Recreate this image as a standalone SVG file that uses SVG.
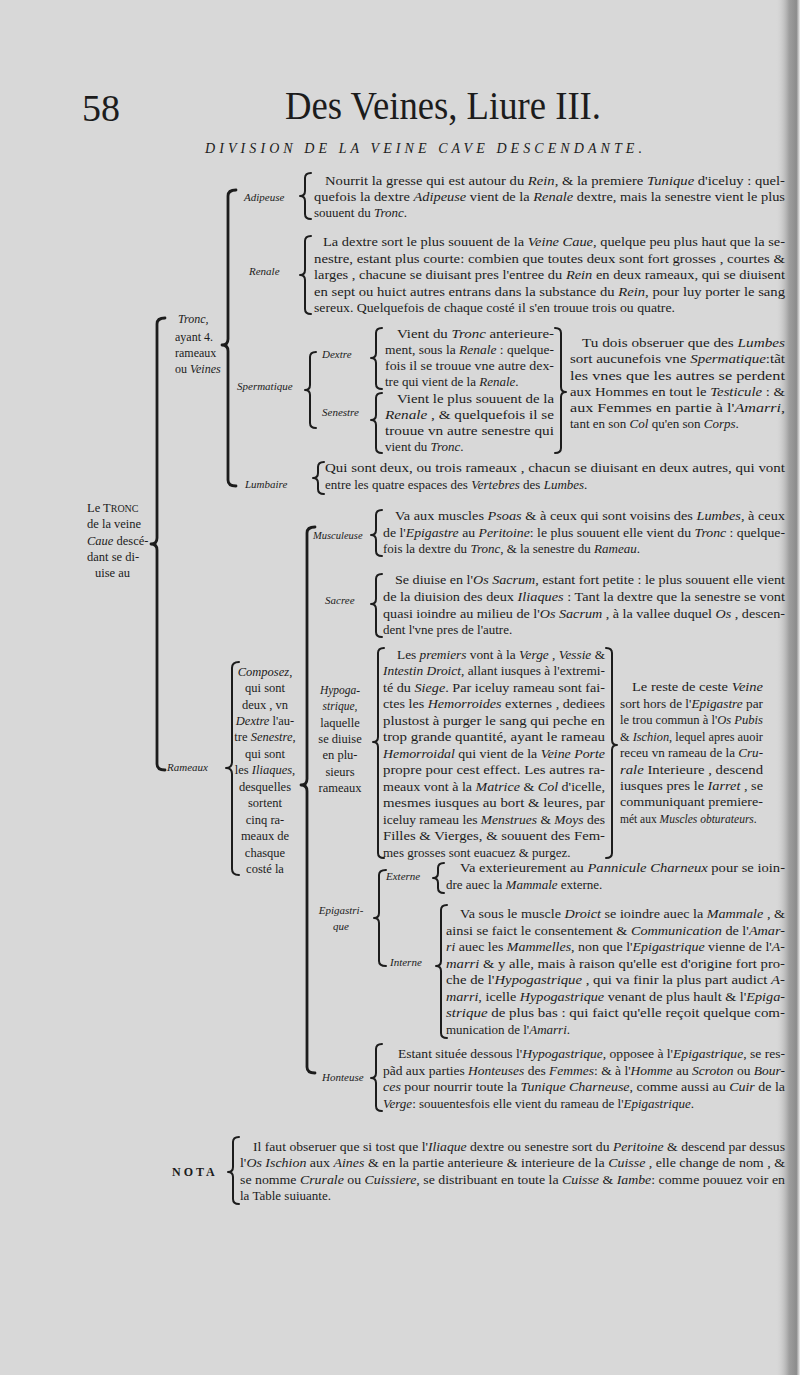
<svg xmlns="http://www.w3.org/2000/svg" width="800" height="1375" viewBox="0 0 800 1375">
<defs>
<linearGradient id="edge" x1="0" y1="0" x2="1" y2="0">
<stop offset="0" stop-color="#d4d4d4" stop-opacity="0"/>
<stop offset="0.55" stop-color="#9e9e9e"/>
<stop offset="0.85" stop-color="#8c8c8c"/>
<stop offset="1" stop-color="#efefef"/>
</linearGradient>
<style>
.t{font-family:"Liberation Serif","Times New Roman",serif;font-size:13px;fill:#1c1c1c}
.s{font-size:12.5px}
.i{font-style:italic}
.lb{font-family:"Liberation Serif","Times New Roman",serif;font-size:11px;font-style:italic;fill:#1c1c1c}
.sc{font-size:10px}
.br{fill:none;stroke:#1c1c1c;stroke-width:2;stroke-linecap:round;stroke-linejoin:round}
.bb{fill:none;stroke:#1c1c1c;stroke-width:2.8;stroke-linecap:round;stroke-linejoin:round}
</style>
</defs>
<rect width="800" height="1375" fill="#d8d8d8"/>
<rect x="776" y="0" width="24" height="1375" fill="url(#edge)"/>

<g id="header">
<text class="t" x="82" y="121" style="font-size:38px">58</text>
<text class="t" x="285" y="119" style="font-size:40px" textLength="316" lengthAdjust="spacingAndGlyphs">Des Veines, Liure III.</text>
<text class="t i" x="205" y="153" style="font-size:14px" textLength="437" lengthAdjust="spacing">DIVISION DE LA VEINE CAVE DESCENDANTE.</text>
</g>

<g id="connectors">
<path class="bb" d="M165,318 Q157,318 157,324 L157,538 Q157,544 151,544 Q157,544 157,550 L157,764 Q157,770 165,770"/>
<path class="bb" d="M236,190 Q228,190 228,196 L228,339 Q228,345 222,345 Q228,345 228,351 L228,480 Q228,486 236,486"/>
<path class="bb" d="M315,527 Q307,527 307,533 L307,779 Q307,785 301,785 Q307,785 307,791 L307,1067 Q307,1073 315,1073"/>
<path class="br" d="M239,662 Q232,662 232,668 L232,762 Q232,768 226,768 Q232,768 232,774 L232,869 Q232,875 239,875"/>
<path class="br" d="M316,352 Q310,352 310,357 L310,385 Q310,390 305,390 Q310,390 310,395 L310,423 Q310,428 316,428"/>
<path class="br" d="M386,870 Q379,870 379,875 L379,913 Q379,918 374,918 Q379,918 379,923 L379,961 Q379,966 386,966"/>
</g>

<g id="tronc-caue">
<text class="t s" x="87" y="512">Le T<tspan class="sc">RONC</tspan></text>
<text class="t s" x="87" y="528">de la veine</text>
<text class="t s" x="87" y="545"><tspan class="i">Caue</tspan> descé-</text>
<text class="t s" x="87" y="561">dant se di-</text>
<text class="t s" x="95" y="577">uise au</text>
</g>

<g id="tronc">
<text class="t i" x="178" y="323" style="font-size:12px">Tronc,</text>
<text class="t" x="175" y="341" style="font-size:12px">ayant 4.</text>
<text class="t" x="175" y="357" style="font-size:12px">rameaux</text>
<text class="t" x="175" y="373" style="font-size:12px">ou <tspan class="i">Veines</tspan></text>
</g>

<g id="adipeuse">
<text class="lb" x="244" y="201">Adipeuse</text>
<path class="br" d="M311,173 Q305,173 305,178 L305,191 Q305,196 300,196 Q305,196 305,201 L305,214 Q305,219 311,219"/>
<text class="t" x="325" y="185" textLength="460" lengthAdjust="spacingAndGlyphs">Nourrit la gresse qui est autour du <tspan class="i">Rein</tspan>, &amp; la premiere <tspan class="i">Tunique</tspan> d'iceluy : quel-</text>
<text class="t" x="314" y="201" textLength="471" lengthAdjust="spacingAndGlyphs">quefois la dextre <tspan class="i">Adipeuse</tspan> vient de la <tspan class="i">Renale</tspan> dextre, mais la senestre vient le plus</text>
<text class="t" x="314" y="217">souuent du <tspan class="i">Tronc</tspan>.</text>
</g>

<g id="renale">
<text class="lb" x="249" y="275">Renale</text>
<path class="br" d="M311,236 Q305,236 305,241 L305,270 Q305,275 300,275 Q305,275 305,280 L305,309 Q305,314 311,314"/>
<text class="t" x="323" y="246" textLength="462" lengthAdjust="spacingAndGlyphs">La dextre sort le plus souuent de la <tspan class="i">Veine Caue</tspan>, quelque peu plus haut que la se-</text>
<text class="t" x="314" y="263" textLength="471" lengthAdjust="spacingAndGlyphs">nestre, estant plus courte: combien que toutes deux sont fort grosses , courtes &amp;</text>
<text class="t" x="314" y="279" textLength="471" lengthAdjust="spacingAndGlyphs">larges , chacune se diuisant pres l'entree du <tspan class="i">Rein</tspan> en deux rameaux, qui se diuisent</text>
<text class="t" x="314" y="296" textLength="471" lengthAdjust="spacingAndGlyphs">en sept ou huict autres entrans dans la substance du <tspan class="i">Rein</tspan>, pour luy porter le sang</text>
<text class="t" x="314" y="312" textLength="361" lengthAdjust="spacingAndGlyphs">sereux. Quelquefois de chaque costé il s'en trouue trois ou quatre.</text>
</g>

<g id="spermatique">
<text class="lb" x="237" y="390">Spermatique</text>
<text class="lb" x="322" y="358">Dextre</text>
<text class="lb" x="322" y="416">Senestre</text>
<path class="br" d="M382,328 Q376,328 376,333 L376,353 Q376,358 371,358 Q376,358 376,363 L376,384 Q376,389 382,389"/>
<path class="br" d="M382,393 Q376,393 376,398 L376,415 Q376,420 371,420 Q376,420 376,425 L376,448 Q376,453 382,453"/>
<path class="br" d="M555,328 Q561,328 561,333 L561,387 Q561,392 566,392 Q561,392 561,397 L561,448 Q561,453 555,453"/>
<text class="t" x="397" y="338" textLength="157" lengthAdjust="spacingAndGlyphs">Vient du <tspan class="i">Tronc</tspan> anterieure-</text>
<text class="t" x="385" y="354" textLength="169" lengthAdjust="spacingAndGlyphs">ment, sous la <tspan class="i">Renale</tspan> : quelque-</text>
<text class="t" x="385" y="370" textLength="169" lengthAdjust="spacingAndGlyphs">fois il se trouue vne autre dex-</text>
<text class="t" x="385" y="386">tre qui vient de la <tspan class="i">Renale</tspan>.</text>
<text class="t" x="397" y="403" textLength="157" lengthAdjust="spacingAndGlyphs">Vient le plus souuent de la</text>
<text class="t" x="385" y="419" textLength="169" lengthAdjust="spacingAndGlyphs"><tspan class="i">Renale</tspan> , &amp; quelquefois il se</text>
<text class="t" x="385" y="435" textLength="169" lengthAdjust="spacingAndGlyphs">trouue vn autre senestre qui</text>
<text class="t" x="385" y="451">vient du <tspan class="i">Tronc</tspan>.</text>
<text class="t" x="582" y="347" textLength="203" lengthAdjust="spacingAndGlyphs">Tu dois obseruer que des <tspan class="i">Lumbes</tspan></text>
<text class="t" x="570" y="363" textLength="215" lengthAdjust="spacingAndGlyphs">sort aucunefois vne <tspan class="i">Spermatique</tspan>:tãt</text>
<text class="t" x="570" y="380" textLength="215" lengthAdjust="spacingAndGlyphs">les vnes que les autres se perdent</text>
<text class="t" x="570" y="396" textLength="215" lengthAdjust="spacingAndGlyphs">aux Hommes en tout le <tspan class="i">Testicule</tspan> : &amp;</text>
<text class="t" x="570" y="412" textLength="215" lengthAdjust="spacingAndGlyphs">aux Femmes en partie à l'<tspan class="i">Amarri</tspan>,</text>
<text class="t" x="570" y="428">tant en son <tspan class="i">Col</tspan> qu'en son <tspan class="i">Corps</tspan>.</text>
</g>

<g id="lumbaire">
<text class="lb" x="245" y="488">Lumbaire</text>
<path class="br" d="M324,462 Q318,462 318,467 L318,473 Q318,478 313,478 Q318,478 318,483 L318,489 Q318,494 324,494"/>
<text class="t" x="325" y="472" textLength="460" lengthAdjust="spacingAndGlyphs">Qui sont deux, ou trois rameaux , chacun se diuisant en deux autres, qui vont</text>
<text class="t" x="325" y="489">entre les quatre espaces des <tspan class="i">Vertebres</tspan> des <tspan class="i">Lumbes</tspan>.</text>
</g>

<g id="rameaux">
<text class="lb" x="167" y="771">Rameaux</text>
<g text-anchor="middle">
<text class="t s" x="265" y="676"><tspan class="i">Composez</tspan>,</text>
<text class="t s" x="265" y="692">qui sont</text>
<text class="t s" x="265" y="709">deux , vn</text>
<text class="t s" x="265" y="725"><tspan class="i">Dextre</tspan> l'au-</text>
<text class="t s" x="265" y="741">tre <tspan class="i">Senestre</tspan>,</text>
<text class="t s" x="265" y="758">qui sont</text>
<text class="t s" x="265" y="774">les <tspan class="i">Iliaques</tspan>,</text>
<text class="t s" x="265" y="791">desquelles</text>
<text class="t s" x="265" y="807">sortent</text>
<text class="t s" x="265" y="824">cinq ra-</text>
<text class="t s" x="265" y="840">meaux de</text>
<text class="t s" x="265" y="857">chasque</text>
<text class="t s" x="265" y="873">costé la</text>
</g>
</g>

<g id="musculeuse">
<text class="lb" x="313" y="539" style="font-size:10.5px">Musculeuse</text>
<path class="br" d="M382,510 Q376,510 376,515 L376,530 Q376,535 371,535 Q376,535 376,540 L376,551 Q376,556 382,556"/>
<text class="t" x="395" y="520" textLength="390" lengthAdjust="spacingAndGlyphs">Va aux muscles <tspan class="i">Psoas</tspan> &amp; à ceux qui sont voisins des <tspan class="i">Lumbes</tspan>, à ceux</text>
<text class="t" x="383" y="537" textLength="402" lengthAdjust="spacingAndGlyphs">de l'<tspan class="i">Epigastre</tspan> au <tspan class="i">Peritoine</tspan>: le plus souuent elle vient du <tspan class="i">Tronc</tspan> : quelque-</text>
<text class="t" x="383" y="553">fois la dextre du <tspan class="i">Tronc</tspan>, &amp; la senestre du <tspan class="i">Rameau</tspan>.</text>
</g>

<g id="sacree">
<text class="lb" x="325" y="604">Sacree</text>
<path class="br" d="M382,574 Q376,574 376,579 L376,599 Q376,604 371,604 Q376,604 376,609 L376,632 Q376,637 382,637"/>
<text class="t" x="395" y="584" textLength="390" lengthAdjust="spacingAndGlyphs">Se diuise en l'<tspan class="i">Os Sacrum</tspan>, estant fort petite : le plus souuent elle vient</text>
<text class="t" x="383" y="601" textLength="402" lengthAdjust="spacingAndGlyphs">de la diuision des deux <tspan class="i">Iliaques</tspan> : Tant la dextre que la senestre se vont</text>
<text class="t" x="383" y="618" textLength="402" lengthAdjust="spacingAndGlyphs">quasi ioindre au milieu de l'<tspan class="i">Os Sacrum</tspan> , à la vallee duquel <tspan class="i">Os</tspan> , descen-</text>
<text class="t" x="383" y="634">dent l'vne pres de l'autre.</text>
</g>

<g id="hypogastrique">
<text class="lb" x="340" y="694" text-anchor="middle" style="font-size:11.5px">Hypoga-</text>
<text class="lb" x="340" y="710" text-anchor="middle" style="font-size:11.5px">strique,</text>
<text class="t s" x="340" y="727" text-anchor="middle">laquelle</text>
<text class="t s" x="340" y="743" text-anchor="middle">se diuise</text>
<text class="t s" x="340" y="759" text-anchor="middle">en plu-</text>
<text class="t s" x="340" y="776" text-anchor="middle">sieurs</text>
<text class="t s" x="340" y="792" text-anchor="middle">rameaux</text>
<path class="br" d="M384,648 Q378,648 378,653 L378,737 Q378,742 373,742 Q378,742 378,747 L378,853 Q378,858 384,858"/>
<path class="br" d="M606,648 Q612,648 612,653 L612,740 Q612,745 617,745 Q612,745 612,750 L612,853 Q612,858 606,858"/>
<text class="t" x="397" y="659" textLength="208" lengthAdjust="spacingAndGlyphs">Les <tspan class="i">premiers</tspan> vont à la <tspan class="i">Verge</tspan> , <tspan class="i">Vessie</tspan> &amp;</text>
<text class="t" x="383" y="675" textLength="222" lengthAdjust="spacingAndGlyphs"><tspan class="i">Intestin Droict</tspan>, allant iusques à l'extremi-</text>
<text class="t" x="383" y="692" textLength="222" lengthAdjust="spacingAndGlyphs">té du <tspan class="i">Siege</tspan>. Par iceluy rameau sont fai-</text>
<text class="t" x="383" y="708" textLength="222" lengthAdjust="spacingAndGlyphs">ctes les <tspan class="i">Hemorroides</tspan> externes , dediees</text>
<text class="t" x="383" y="725" textLength="222" lengthAdjust="spacingAndGlyphs">plustost à purger le sang qui peche en</text>
<text class="t" x="383" y="741" textLength="222" lengthAdjust="spacingAndGlyphs">trop grande quantité, ayant le rameau</text>
<text class="t" x="383" y="758" textLength="222" lengthAdjust="spacingAndGlyphs"><tspan class="i">Hemorroidal</tspan> qui vient de la <tspan class="i">Veine Porte</tspan></text>
<text class="t" x="383" y="774" textLength="222" lengthAdjust="spacingAndGlyphs">propre pour cest effect. Les autres ra-</text>
<text class="t" x="383" y="791" textLength="222" lengthAdjust="spacingAndGlyphs">meaux vont à la <tspan class="i">Matrice</tspan> &amp; <tspan class="i">Col</tspan> d'icelle,</text>
<text class="t" x="383" y="807" textLength="222" lengthAdjust="spacingAndGlyphs">mesmes iusques au bort &amp; leures, par</text>
<text class="t" x="383" y="824" textLength="222" lengthAdjust="spacingAndGlyphs">iceluy rameau les <tspan class="i">Menstrues</tspan> &amp; <tspan class="i">Moys</tspan> des</text>
<text class="t" x="383" y="840" textLength="222" lengthAdjust="spacingAndGlyphs">Filles &amp; Vierges, &amp; souuent des Fem-</text>
<text class="t" x="383" y="857">mes grosses sont euacuez &amp; purgez.</text>
<text class="t" x="632" y="691" textLength="131" lengthAdjust="spacingAndGlyphs">Le reste de ceste <tspan class="i">Veine</tspan></text>
<text class="t" x="620" y="708" textLength="143" lengthAdjust="spacingAndGlyphs">sort hors de l'<tspan class="i">Epigastre</tspan> par</text>
<text class="t" x="620" y="724" textLength="143" lengthAdjust="spacingAndGlyphs">le trou commun à l'<tspan class="i">Os Pubis</tspan></text>
<text class="t" x="620" y="741" textLength="143" lengthAdjust="spacingAndGlyphs">&amp; <tspan class="i">Ischion</tspan>, lequel apres auoir</text>
<text class="t" x="620" y="757" textLength="143" lengthAdjust="spacingAndGlyphs">receu vn rameau de la <tspan class="i">Cru-</tspan></text>
<text class="t" x="620" y="774" textLength="143" lengthAdjust="spacingAndGlyphs"><tspan class="i">rale</tspan> Interieure , descend</text>
<text class="t" x="620" y="790" textLength="143" lengthAdjust="spacingAndGlyphs">iusques pres le <tspan class="i">Iarret</tspan> , se</text>
<text class="t" x="620" y="806" textLength="143" lengthAdjust="spacingAndGlyphs">communiquant premiere-</text>
<text class="t" x="620" y="823" style="font-size:11.5px">mét aux <tspan class="i">Muscles obturateurs</tspan>.</text>
</g>

<g id="epigastrique">
<text class="lb" x="341" y="914" text-anchor="middle">Epigastri-</text>
<text class="lb" x="341" y="930" text-anchor="middle">que</text>
</g>

<g id="externe">
<text class="lb" x="386" y="880">Externe</text>
<path class="br" d="M444,863 Q438,863 438,868 L438,873 Q438,878 433,878 Q438,878 438,883 L438,888 Q438,893 444,893"/>
<text class="t" x="460" y="872" textLength="325" lengthAdjust="spacingAndGlyphs">Va exterieurement au <tspan class="i">Pannicule Charneux</tspan> pour se ioin-</text>
<text class="t" x="446" y="889">dre auec la <tspan class="i">Mammale</tspan> externe.</text>
</g>

<g id="interne">
<text class="lb" x="390" y="966">Interne</text>
<path class="br" d="M447,905 Q441,905 441,910 L441,961 Q441,966 436,966 Q441,966 441,971 L441,1033 Q441,1038 447,1038"/>
<text class="t" x="460" y="918" textLength="325" lengthAdjust="spacingAndGlyphs">Va sous le muscle <tspan class="i">Droict</tspan> se ioindre auec la <tspan class="i">Mammale</tspan> , &amp;</text>
<text class="t" x="446" y="935" textLength="339" lengthAdjust="spacingAndGlyphs">ainsi se faict le consentement &amp; <tspan class="i">Communication</tspan> de l'<tspan class="i">Amar-</tspan></text>
<text class="t" x="446" y="951" textLength="339" lengthAdjust="spacingAndGlyphs"><tspan class="i">ri</tspan> auec les <tspan class="i">Mammelles</tspan>, non que l'<tspan class="i">Epigastrique</tspan> vienne de l'<tspan class="i">A-</tspan></text>
<text class="t" x="446" y="968" textLength="339" lengthAdjust="spacingAndGlyphs"><tspan class="i">marri</tspan> &amp; y alle, mais à raison qu'elle est d'origine fort pro-</text>
<text class="t" x="446" y="984" textLength="339" lengthAdjust="spacingAndGlyphs">che de l'<tspan class="i">Hypogastrique</tspan> , qui va finir la plus part audict <tspan class="i">A-</tspan></text>
<text class="t" x="446" y="1001" textLength="339" lengthAdjust="spacingAndGlyphs"><tspan class="i">marri</tspan>, icelle <tspan class="i">Hypogastrique</tspan> venant de plus hault &amp; l'<tspan class="i">Epiga-</tspan></text>
<text class="t" x="446" y="1017" textLength="339" lengthAdjust="spacingAndGlyphs"><tspan class="i">strique</tspan> de plus bas : qui faict qu'elle reçoit quelque com-</text>
<text class="t" x="446" y="1034">munication de l'<tspan class="i">Amarri</tspan>.</text>
</g>

<g id="honteuse">
<text class="lb" x="322" y="1081">Honteuse</text>
<path class="br" d="M382,1044 Q376,1044 376,1049 L376,1073 Q376,1078 371,1078 Q376,1078 376,1083 L376,1106 Q376,1111 382,1111"/>
<text class="t" x="398" y="1058" textLength="387" lengthAdjust="spacingAndGlyphs">Estant située dessous l'<tspan class="i">Hypogastrique</tspan>, opposee à l'<tspan class="i">Epigastrique</tspan>, se res-</text>
<text class="t" x="383" y="1075" textLength="402" lengthAdjust="spacingAndGlyphs">pãd aux parties <tspan class="i">Honteuses</tspan> des <tspan class="i">Femmes</tspan>: &amp; à l'<tspan class="i">Homme</tspan> au <tspan class="i">Scroton</tspan> ou <tspan class="i">Bour-</tspan></text>
<text class="t" x="383" y="1091" textLength="402" lengthAdjust="spacingAndGlyphs"><tspan class="i">ces</tspan> pour nourrir toute la <tspan class="i">Tunique Charneuse</tspan>, comme aussi au <tspan class="i">Cuir</tspan> de la</text>
<text class="t" x="383" y="1108"><tspan class="i">Verge</tspan>: souuentesfois elle vient du rameau de l'<tspan class="i">Epigastrique</tspan>.</text>
</g>

<g id="nota">
<text class="t" x="172" y="1176" style="font-size:12px;font-weight:bold;letter-spacing:3px">NOTA</text>
<path class="br" d="M239,1137 Q233,1137 233,1142 L233,1167 Q233,1172 228,1172 Q233,1172 233,1177 L233,1199 Q233,1204 239,1204"/>
<text class="t" x="253" y="1151" textLength="532" lengthAdjust="spacingAndGlyphs">Il faut obseruer que si tost que l'<tspan class="i">Iliaque</tspan> dextre ou senestre sort du <tspan class="i">Peritoine</tspan> &amp; descend par dessus</text>
<text class="t" x="240" y="1167" textLength="545" lengthAdjust="spacingAndGlyphs">l'<tspan class="i">Os Ischion</tspan> aux <tspan class="i">Aines</tspan> &amp; en la partie anterieure &amp; interieure de la <tspan class="i">Cuisse</tspan> , elle change de nom , &amp;</text>
<text class="t" x="240" y="1184" textLength="545" lengthAdjust="spacingAndGlyphs">se nomme <tspan class="i">Crurale</tspan> ou <tspan class="i">Cuissiere</tspan>, se distribuant en toute la <tspan class="i">Cuisse</tspan> &amp; <tspan class="i">Iambe</tspan>: comme pouuez voir en</text>
<text class="t" x="240" y="1200">la Table suiuante.</text>
</g>
</svg>
